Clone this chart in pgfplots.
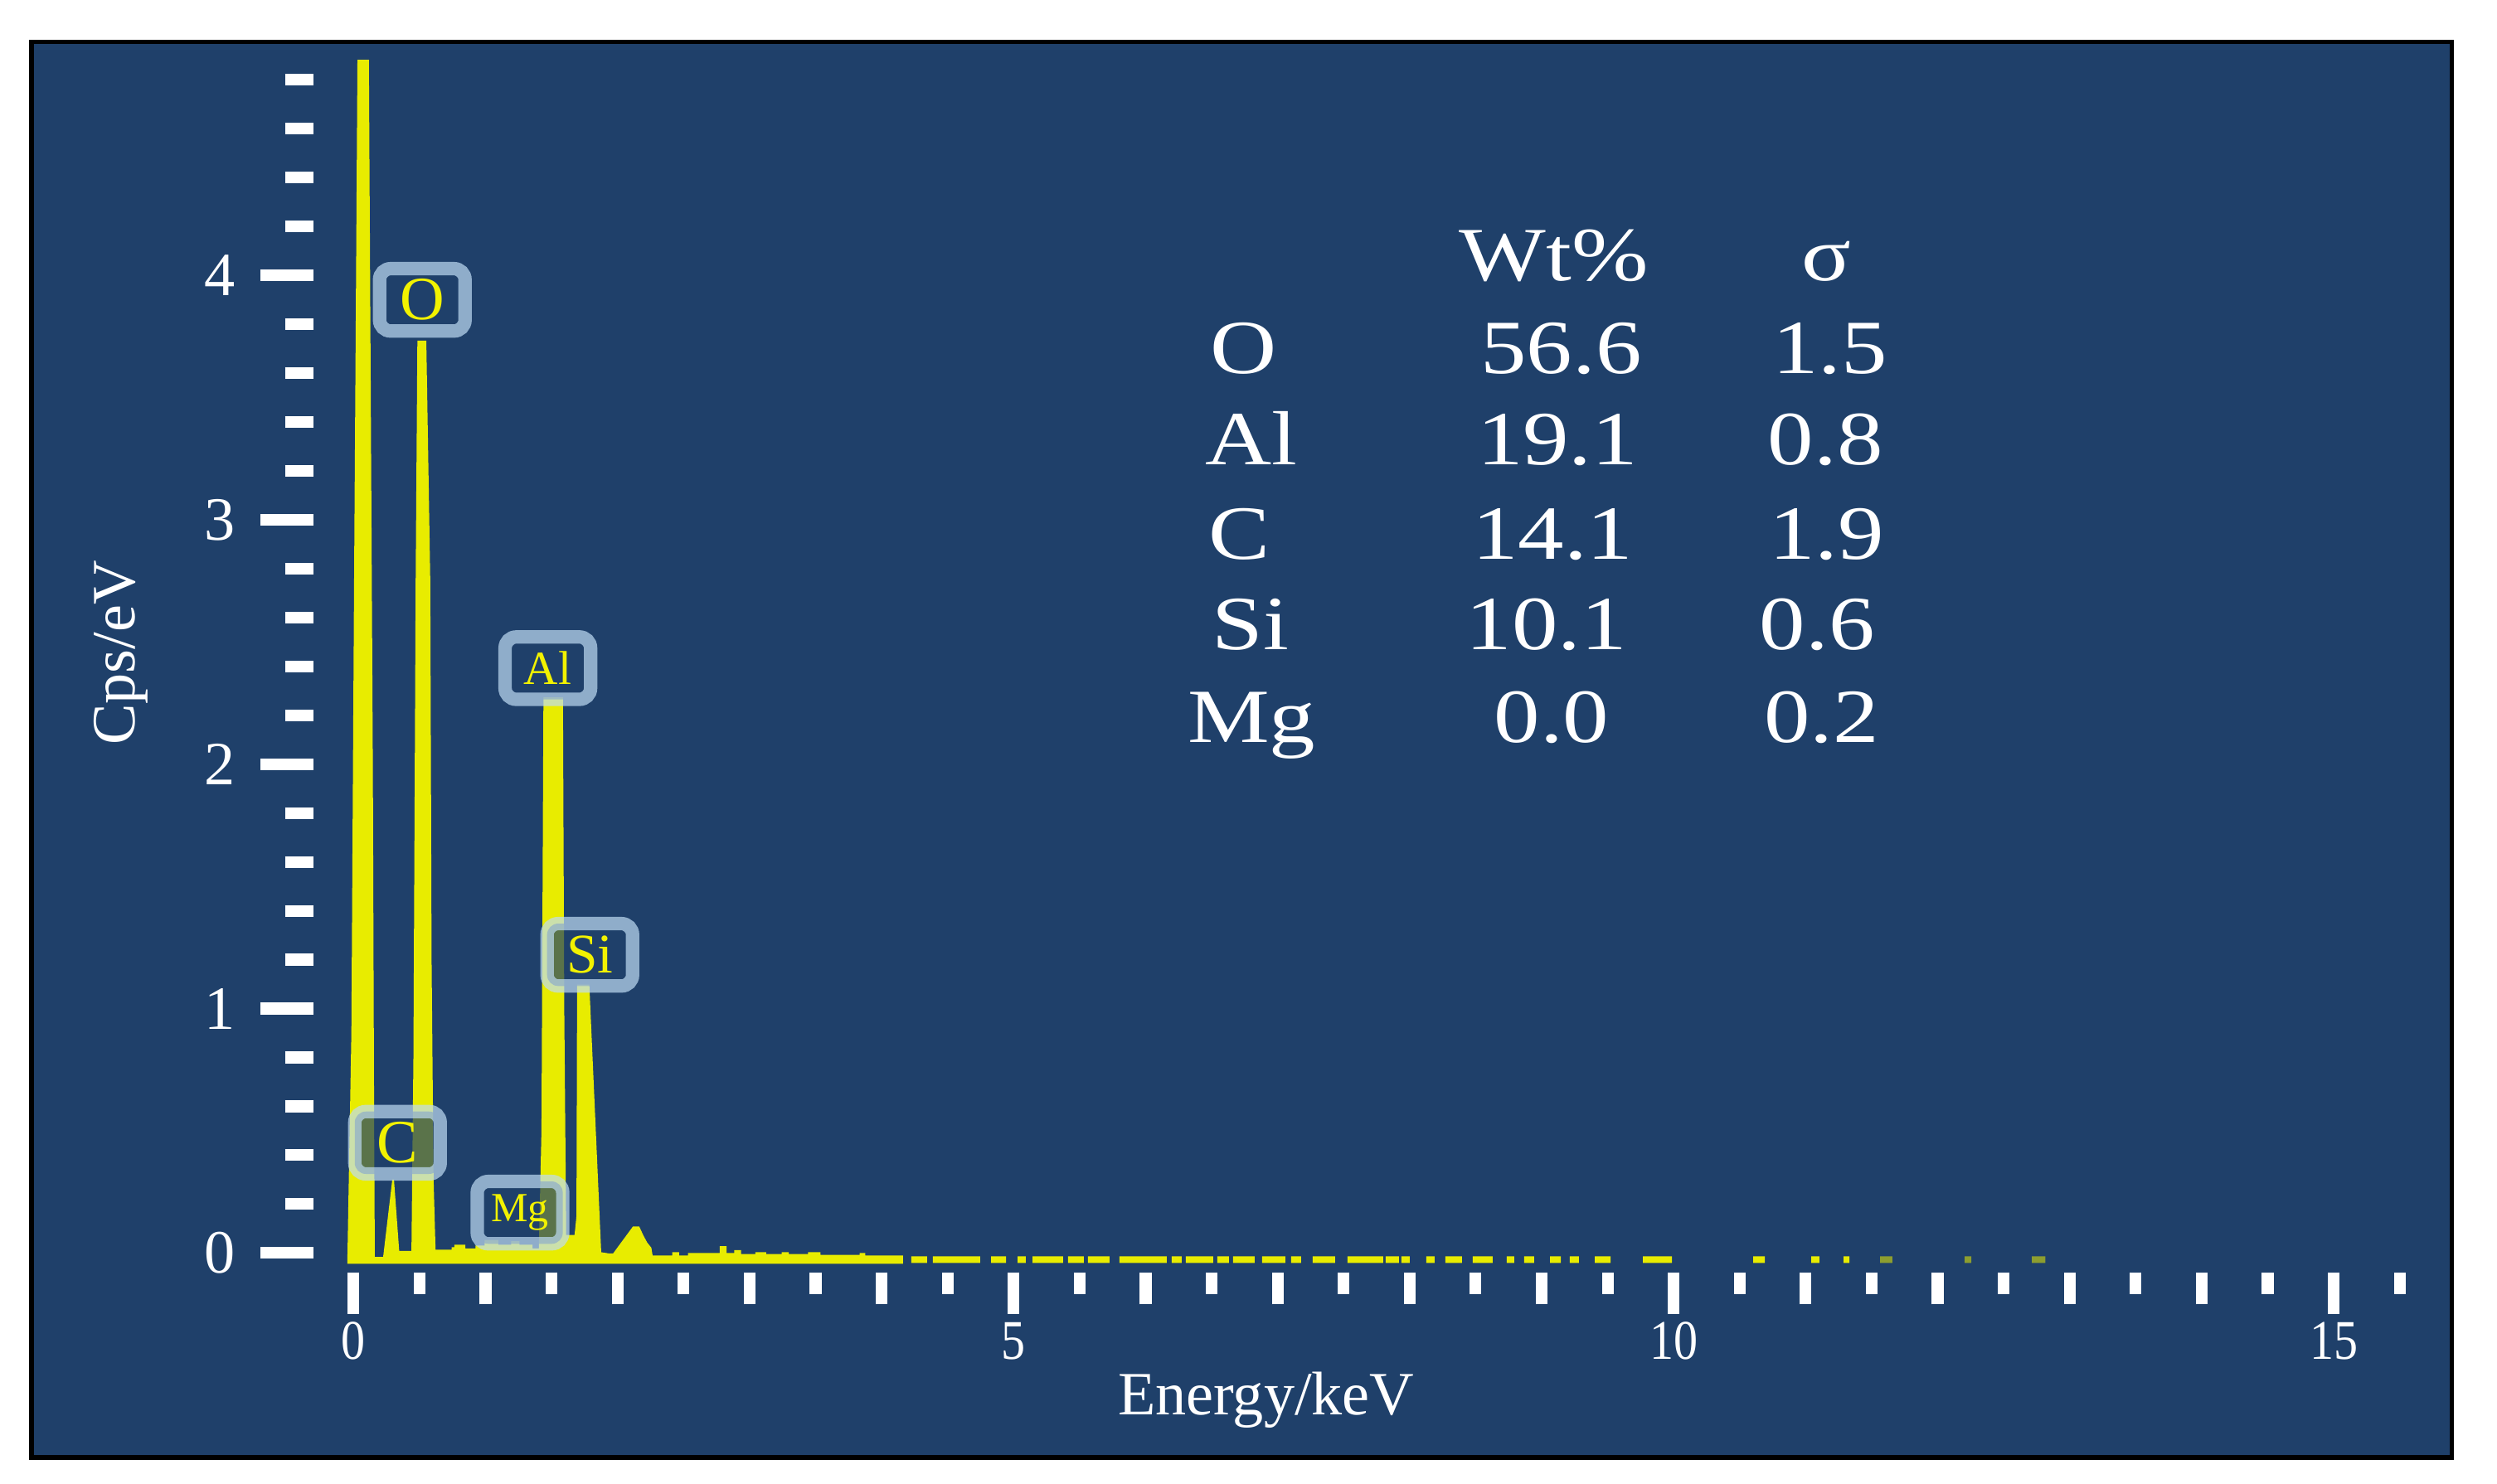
\documentclass[border=0pt]{standalone}
\usepackage{fontspec}
\setmainfont{Liberation Serif}
\usepackage{graphicx}
\usepackage{pgfplots}
\pgfplotsset{compat=1.18}
\definecolor{bgnavy}{HTML}{1F406A}
\definecolor{specyellow}{HTML}{E8EC00}
\definecolor{boxedge}{HTML}{BFDCF4}
\definecolor{boxtext}{HTML}{F2F200}

\tikzset{
  peak/.style={draw=boxedge, draw opacity=0.7, fill=bgnavy, fill opacity=0.7,
    text opacity=1, text=boxtext, line width=2.4pt, rounded corners=0.7mm,
    minimum width=5.37mm, minimum height=3.92mm, inner sep=0pt},
  tab/.style={text=white, anchor=base, inner sep=0pt},
}
\newcommand{\tx}[1]{\scalebox{1.2}[1]{\fontsize{13.7}{16}\selectfont #1}}
\newcommand{\xt}[1]{\scalebox{0.86}[1]{#1}}

\begin{document}
\begin{tikzpicture}
\useasboundingbox (-1.97,-1.327) rectangle (13.71,7.993);
\fill[white] (-1.97,-1.327) rectangle (13.71,7.993);
\filldraw[fill=bgnavy, draw=black, line width=0.85pt] (-1.773,-1.162) rectangle (13.426,7.730);

% spectrum + x ticks
\begin{axis}[
  scale only axis, width=13.182cm, height=7.614cm,
  xmin=-0.3016, xmax=15.6, ymin=-0.08, ymax=4.88,
  axis line style={draw=none},
  tick align=outside, xtick pos=bottom, ytick=\empty,
  xtick={0,5,10,15}, xticklabels={\xt{0},\xt{5},\xt{10},\xt{15}},
  minor xtick={0.5,1.5,...,15.5},
  extra x ticks={1,2,3,4,6,7,8,9,11,12,13,14},
  extra x tick labels={},
  extra x tick style={major tick length=2mm},
  major tick length=2.6mm, minor tick length=1.35mm,
  tick style={white, line width=2.1pt},
  xticklabel style={text=white, font=\fontsize{10}{12}\selectfont, anchor=base, yshift=-2.87mm},
  xlabel={Energy/keV}, ylabel={Cps/eV},
  xlabel style={at={(rel axis cs:0.4537,-0.1177)}, anchor=base, text=white, font=\fontsize{11}{13}\selectfont},
  ylabel style={at={(rel axis cs:-0.0918,0.5113)}, anchor=center, text=white, font=\fontsize{11}{13}\selectfont},
]
% continuous part of the spectrum, 0 to 4.16 keV
\addplot[fill=specyellow, draw=specyellow, line width=0.3pt] coordinates {
(-0.04,-0.041) (-0.04,-0.02) (-0.01,0.9) (0.01,2.7) (0.036,4.88) (0.06,7.0)
(0.09,7.0) (0.11,4.88) (0.14,2.0) (0.15,0.5) (0.155,-0.02) (0.23,-0.02)
(0.30,0.30) (0.34,0.005) (0.445,0.005) (0.46,0.8) (0.477,2.75) (0.49,3.73)
(0.545,3.73) (0.575,2.75) (0.585,1.2) (0.60,0.3) (0.615,0.01)
(0.75,0.01) (0.75,0.02) (0.77,0.02) (0.77,0.03) (0.84,0.03) (0.84,0.015)
(0.93,0.015) (0.93,0.027) (1.0,0.027) (1.0,0.05) (1.09,0.05) (1.09,0.03)
(1.20,0.03) (1.20,0.045) (1.25,0.045) (1.25,0.03) (1.35,0.03) (1.35,0.015)
(1.41,0.015) (1.43,0.5) (1.445,2.27) (1.58,2.27) (1.59,1.0) (1.605,0.045)
(1.61,0.045) (1.61,0.07) (1.68,0.07) (1.695,0.15) (1.70,1.095) (1.78,1.095)
(1.87,0.0) (1.93,-0.005) (1.97,-0.005) (2.12,0.105) (2.16,0.105) (2.19,0.07)
(2.22,0.04) (2.25,0.02) (2.26,-0.014) (2.42,-0.014) (2.42,0.0) (2.46,0.0)
(2.46,-0.014) (2.54,-0.014) (2.54,-0.004) (2.78,-0.004) (2.78,0.024) (2.82,0.024)
(2.82,-0.004) (2.89,-0.004) (2.89,0.008) (2.93,0.008) (2.93,-0.008) (3.05,-0.008)
(3.05,0.0) (3.12,0.0) (3.12,-0.008) (3.25,-0.008) (3.25,0.0) (3.29,0.0)
(3.29,-0.008) (3.45,-0.008) (3.45,0.0) (3.53,0.0) (3.53,-0.011) (3.84,-0.011)
(3.84,-0.004) (3.87,-0.004) (3.87,-0.014) (4.156,-0.014) (4.156,-0.041)
} -- cycle;
% broken baseline above 4.2 keV
\addplot[fill=specyellow, draw=none, unbounded coords=jump] coordinates {
(4.225,-0.041) (4.225,-0.014) (4.345,-0.014) (4.345,-0.041) (nan,nan)
(4.389,-0.041) (4.389,-0.014) (4.747,-0.014) (4.747,-0.041) (nan,nan)
(4.829,-0.041) (4.829,-0.014) (4.942,-0.014) (4.942,-0.041) (nan,nan)
(5.030,-0.041) (5.030,-0.014) (5.092,-0.014) (5.092,-0.041) (nan,nan)
(5.143,-0.041) (5.143,-0.014) (5.375,-0.014) (5.375,-0.041) (nan,nan)
(5.412,-0.041) (5.412,-0.014) (5.532,-0.014) (5.532,-0.041) (nan,nan)
(5.563,-0.041) (5.563,-0.014) (5.727,-0.014) (5.727,-0.041) (nan,nan)
(5.802,-0.041) (5.802,-0.014) (6.160,-0.014) (6.160,-0.041) (nan,nan)
(6.198,-0.041) (6.198,-0.014) (6.273,-0.014) (6.273,-0.041) (nan,nan)
(6.305,-0.041) (6.305,-0.014) (6.512,-0.014) (6.512,-0.041) (nan,nan)
(6.543,-0.041) (6.543,-0.014) (6.631,-0.014) (6.631,-0.041) (nan,nan)
(6.663,-0.041) (6.663,-0.014) (6.826,-0.014) (6.826,-0.041) (nan,nan)
(6.882,-0.041) (6.882,-0.014) (7.058,-0.014) (7.058,-0.041) (nan,nan)
(7.102,-0.041) (7.102,-0.014) (7.177,-0.014) (7.177,-0.041) (nan,nan)
(7.265,-0.041) (7.265,-0.014) (7.435,-0.014) (7.435,-0.041) (nan,nan)
(7.529,-0.041) (7.529,-0.014) (7.799,-0.014) (7.799,-0.041) (nan,nan)
(7.818,-0.041) (7.818,-0.014) (7.918,-0.014) (7.918,-0.041) (nan,nan)
(7.937,-0.041) (7.937,-0.014) (8.000,-0.014) (8.000,-0.041) (nan,nan)
(8.126,-0.041) (8.126,-0.014) (8.189,-0.014) (8.189,-0.041) (nan,nan)
(8.270,-0.041) (8.270,-0.014) (8.396,-0.014) (8.396,-0.041) (nan,nan)
(8.478,-0.041) (8.478,-0.014) (8.629,-0.014) (8.629,-0.041) (nan,nan)
(8.736,-0.041) (8.736,-0.014) (8.792,-0.014) (8.792,-0.041) (nan,nan)
(8.868,-0.041) (8.868,-0.014) (8.943,-0.014) (8.943,-0.041) (nan,nan)
(9.063,-0.041) (9.063,-0.014) (9.145,-0.014) (9.145,-0.041) (nan,nan)
(9.213,-0.041) (9.213,-0.014) (9.282,-0.014) (9.282,-0.041) (nan,nan)
(9.403,-0.041) (9.403,-0.014) (9.522,-0.014) (9.522,-0.041) (nan,nan)
(9.767,-0.041) (9.767,-0.014) (9.987,-0.014) (9.987,-0.041) (nan,nan)
(10.602,-0.041) (10.602,-0.014) (10.690,-0.014) (10.690,-0.041) (nan,nan)
(11.042,-0.041) (11.042,-0.014) (11.104,-0.014) (11.104,-0.041) (nan,nan)
(11.287,-0.041) (11.287,-0.014) (11.331,-0.014) (11.331,-0.041)
};
\addplot[fill=specyellow, fill opacity=0.55, draw=none, unbounded coords=jump] coordinates {
(11.564,-0.041) (11.564,-0.014) (11.656,-0.014) (11.656,-0.041) (nan,nan)
(12.205,-0.041) (12.205,-0.014) (12.255,-0.014) (12.255,-0.041) (nan,nan)
(12.714,-0.041) (12.714,-0.014) (12.815,-0.014) (12.815,-0.041)
};

% peak labels
\node[peak, font=\fontsize{11}{13}\selectfont] at (axis cs:0.521,3.900) {O};
\node[peak, font=\fontsize{8.5}{10}\selectfont] at (axis cs:1.472,2.393) {Al};
\node[peak, font=\fontsize{10}{12}\selectfont] at (axis cs:1.790,1.220) {Si};
\node[peak, font=\fontsize{11}{13}\selectfont] at (axis cs:0.333,0.451) {C};
\node[peak, font=\fontsize{7.4}{9}\selectfont] at (axis cs:1.261,0.165) {Mg};

% quantification table
\node[tab] at (axis cs:9.093,3.977) {\tx{Wt\%}};
\node[tab] at (axis cs:11.158,3.977) {\tx{σ}};
\node[tab] at (axis cs:6.740,3.599) {\tx{O}};
\node[tab] at (axis cs:9.147,3.599) {\tx{56.6}};
\node[tab] at (axis cs:11.185,3.599) {\tx{1.5}};
\node[tab] at (axis cs:6.803,3.225) {\tx{Al}};
\node[tab] at (axis cs:9.120,3.225) {\tx{19.1}};
\node[tab] at (axis cs:11.150,3.225) {\tx{0.8}};
\node[tab] at (axis cs:6.713,2.840) {\tx{C}};
\node[tab] at (axis cs:9.084,2.840) {\tx{14.1}};
\node[tab] at (axis cs:11.160,2.840) {\tx{1.9}};
\node[tab] at (axis cs:6.796,2.469) {\tx{Si}};
\node[tab] at (axis cs:9.038,2.469) {\tx{10.1}};
\node[tab] at (axis cs:11.087,2.469) {\tx{0.6}};
\node[tab] at (axis cs:6.803,2.089) {\tx{Mg}};
\node[tab] at (axis cs:9.075,2.089) {\tx{0.0}};
\node[tab] at (axis cs:11.121,2.089) {\tx{0.2}};
\end{axis}

% y ticks (own lengths)
\begin{axis}[
  scale only axis, width=13.182cm, height=7.614cm,
  xmin=-0.3016, xmax=15.6, ymin=-0.08, ymax=4.88,
  axis line style={draw=none}, xtick=\empty,
  tick align=outside, ytick pos=left,
  ytick={0,1,2,3,4}, yticklabels={0,1,2,3,4},
  minor ytick={0.2,0.4,...,4.8},
  major tick length=3.35mm, minor tick length=1.8mm,
  tick style={white, line width=2.1pt},
  yticklabel style={text=white, font=\fontsize{11}{13}\selectfont, anchor=east, inner sep=0pt, xshift=-1.5mm},
]
\end{axis}
\end{tikzpicture}
\end{document}
